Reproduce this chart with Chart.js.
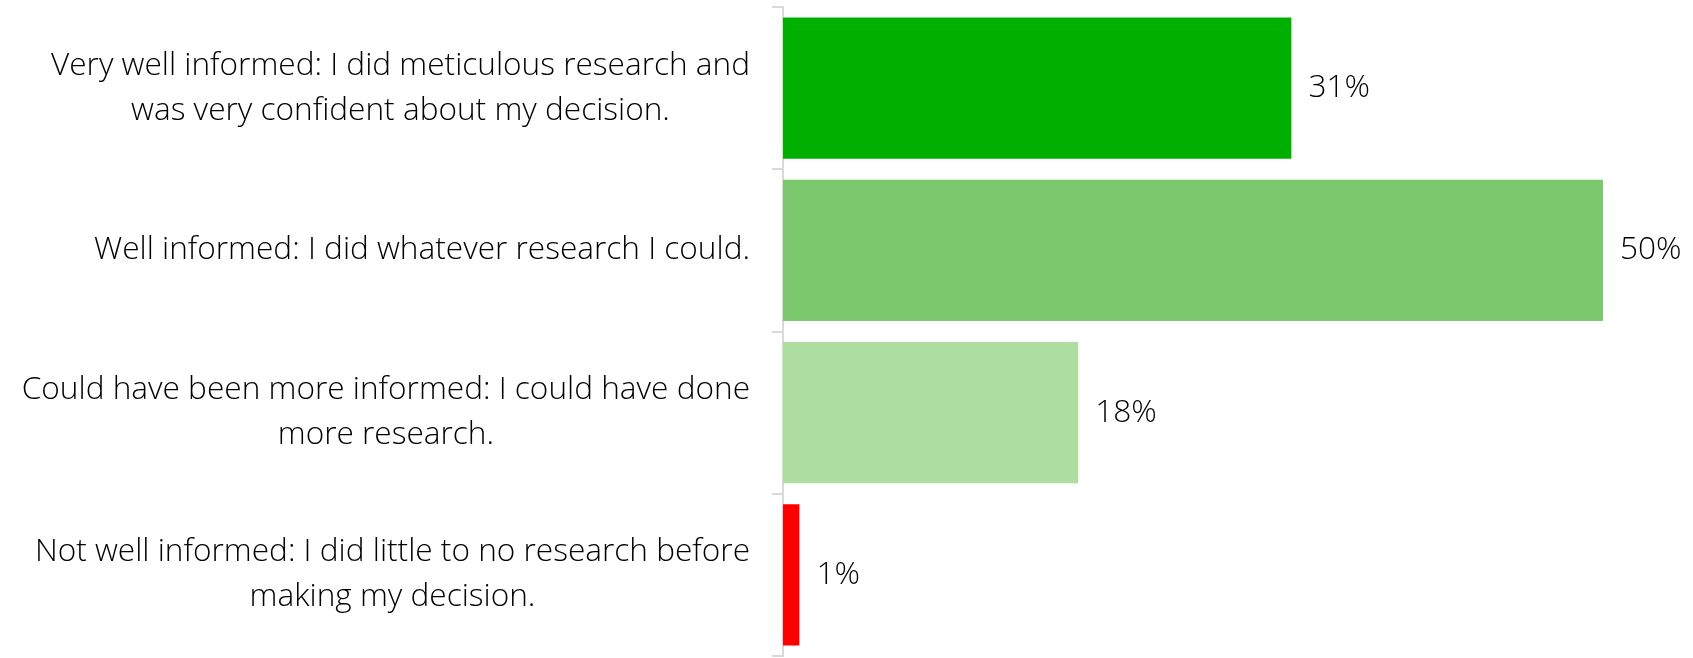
<!DOCTYPE html>
<html>
<head>
<meta charset="utf-8">
<script src="https://cdn.jsdelivr.net/npm/chart.js@4/dist/chart.umd.min.js"></script>
<style>
  html, body { margin: 0; padding: 0; background: #fff; }
  #wrap { width: 1693px; height: 658px; position: relative; }
</style>
</head>
<body>
<div id="wrap"><canvas id="chart"></canvas></div>
<script>
// respostas (linhas quebradas como no original)
const categories = [
  ["Very well informed: I did meticulous research and", "was very confident about my decision."],
  ["Well informed: I did whatever research I could."],
  ["Could have been more informed: I could have done", "more research."],
  ["Not well informed: I did little to no research before", "making my decision."]
];
const values = [31, 50, 18, 1];
const valueLabels = ["31%", "50%", "18%", "1%"];
const barColors = ["#00b000", "#7cc86c", "#addea0", "#ff0000"];

const FONT = "'Open Sans', Lato, sans-serif";
const FONT_SIZE = 31.6;

// desenha os rótulos das categorias (bloco alinhado à direita, linhas centralizadas)
const catLabels = {
  id: "catLabels",
  afterDraw(chart){
    const ctx = chart.ctx;
    const y = chart.scales.y;
    const right = y.right - 33;
    const lh = 45;
    ctx.save();
    ctx.font = `300 ${FONT_SIZE}px ${FONT}`;
    ctx.fillStyle = "#000";
    ctx.textAlign = "center";
    ctx.textBaseline = "middle";
    categories.forEach((lines, i) => {
      const w = Math.max(...lines.map(l => ctx.measureText(l).width));
      const cx = right - w / 2;
      const cy = y.getPixelForValue(i);
      const top = cy - (lines.length - 1) * lh / 2;
      lines.forEach((l, k) => ctx.fillText(l, cx, top + k * lh));
    });
    ctx.restore();
  }
};

// rótulos de valor à direita de cada barra
const valLabels = {
  id: "valLabels",
  afterDatasetsDraw(chart){
    const ctx = chart.ctx;
    const meta = chart.getDatasetMeta(0);
    ctx.save();
    ctx.font = `300 ${FONT_SIZE}px ${FONT}`;
    ctx.fillStyle = "#000";
    ctx.textAlign = "left";
    ctx.textBaseline = "middle";
    meta.data.forEach((bar, i) => {
      ctx.fillText(valueLabels[i], bar.x + 17, bar.y);
    });
    ctx.restore();
  }
};

new Chart(document.getElementById("chart"), {
  type: "bar",
  data: {
    labels: categories.map(c => c.join(" ")),
    datasets: [{
      data: values,
      backgroundColor: barColors,
      borderWidth: 0,
      barPercentage: 0.87,
      categoryPercentage: 1.0
    }]
  },
  options: {
    indexAxis: "y",
    responsive: true,
    maintainAspectRatio: false,
    animation: false,
    layout: { padding: { top: 7, bottom: 2, left: 0, right: 90 } },
    plugins: {
      legend: { display: false },
      tooltip: { enabled: false }
    },
    scales: {
      x: {
        display: false,
        min: 0,
        max: 50
      },
      y: {
        ticks: { display: false },
        grid: {
          drawOnChartArea: false,
          drawTicks: true,
          tickLength: 11,
          color: "#d9d9d9",
          lineWidth: 2
        },
        border: { color: "#d9d9d9", width: 2 },
        afterFit(scale){ scale.width = 783; }
      }
    }
  },
  plugins: [catLabels, valLabels]
});
</script>
</body>
</html>
